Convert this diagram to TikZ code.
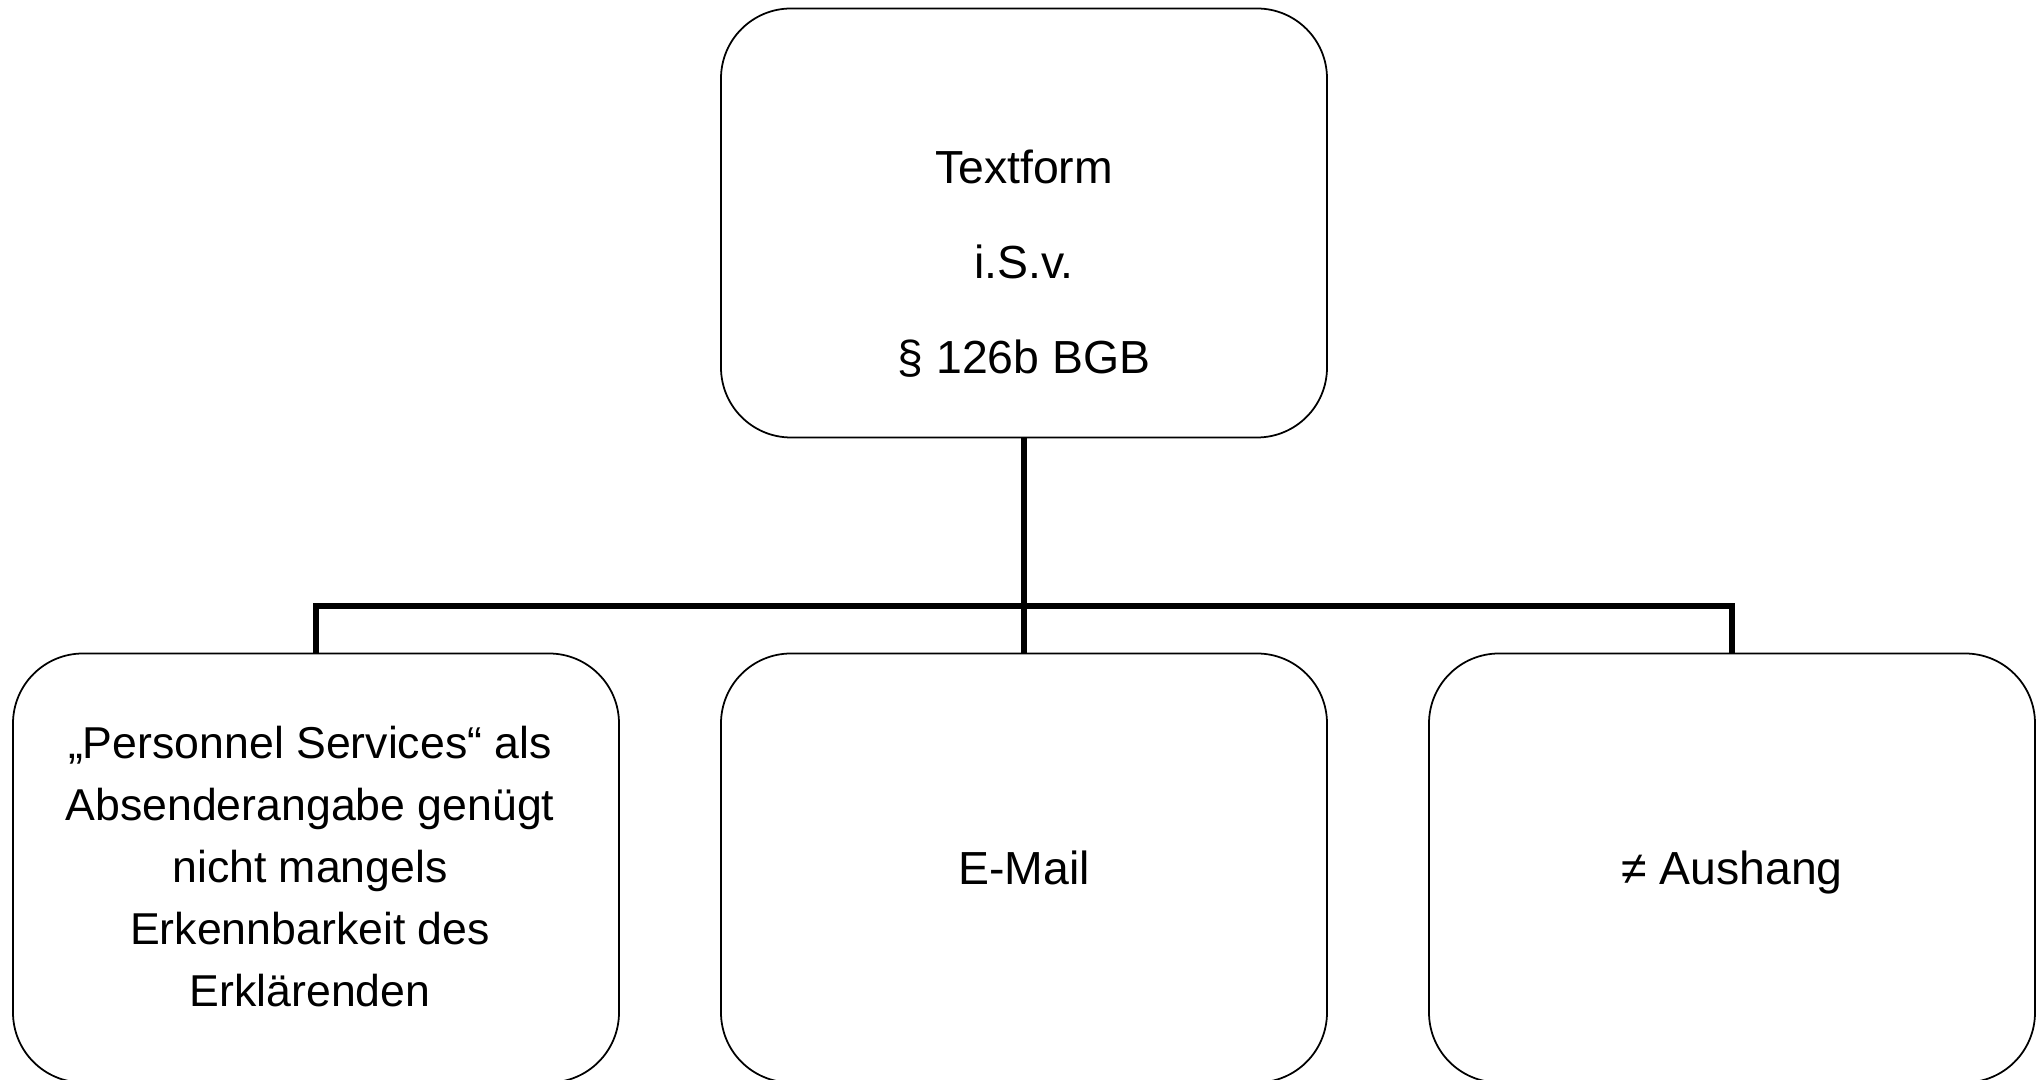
\documentclass[tikz,border=0pt]{standalone}
\usepackage{fontspec}
\setmainfont{Liberation Sans}
\begin{document}
\begin{tikzpicture}
  \useasboundingbox (0, 0) rectangle (20.4, 10.8);  % feste Bildgröße
  \tikzstyle{box}=[draw, rounded corners=0.7cm, minimum width=6.06cm, minimum height=4.29cm, inner sep=0pt, line width=0.5pt]
  \tikzstyle{txt}=[align=center, inner sep=0pt, font=\fontsize{13.2}{16}\selectfont]
  \tikzstyle{conn}=[line width=1.7pt]

  \node[box] (0) at (10.24, 8.57) {};
  \node[box] (1) at ( 3.16, 2.12) {};
  \node[box] (2) at (10.24, 2.12) {};
  \node[box] (3) at (17.32, 2.12) {};

  \node[txt, font=\fontsize{13.2}{27}\selectfont] (t0) at (10.24, 8.165) {Textform\\i.S.v.\\§ 126b BGB};
  \node[txt, font=\fontsize{12.7}{17.7}\selectfont] (t1) at ( 3.10, 2.135) {„Personnel Services“ als\\Absenderangabe genügt\\nicht mangels\\Erkennbarkeit des\\Erklärenden};
  \node[txt, anchor=base] (t2) at (10.24, 1.95) {E-Mail};
  \node[txt, anchor=base] (t3) at (17.32, 1.95) {≠ Aushang};

  \coordinate (bus) at (10.24, 4.74);  % Verzweigung
  \draw[conn] (0) -- (2);
  \draw[conn] (1.north) |- (bus) -| (3.north);
\end{tikzpicture}
\end{document}
